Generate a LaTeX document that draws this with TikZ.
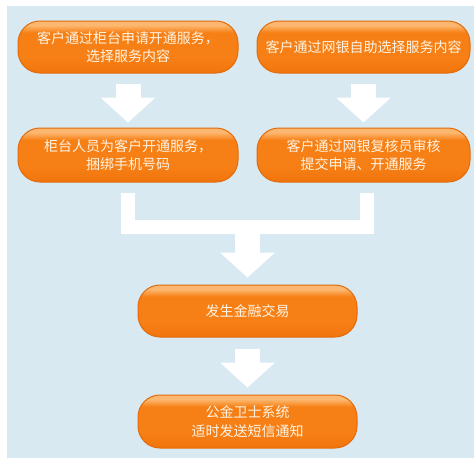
\documentclass[tikz,border=0pt]{standalone}
\usepackage{fontspec}
\newfontfamily\cjk{Noto Sans CJK SC}
\usetikzlibrary{arrows.meta,calc}
\definecolor{bgblue}{RGB}{216,233,241}
\definecolor{boxtop}{RGB}{252,184,112}
\definecolor{boxmid}{RGB}{247,128,22}
\definecolor{boxbot}{RGB}{240,116,12}
\definecolor{boxline}{RGB}{226,108,12}
\definecolor{boxtext}{RGB}{255,243,226}
% glossy fill of the steps
\pgfdeclareverticalshading{boxgloss}{100bp}{color(0bp)=(boxbot); color(25bp)=(boxbot); color(40bp)=(boxmid); color(64bp)=(boxmid); color(71bp)=(boxtop); color(100bp)=(boxtop)}
\begin{document}
\begin{tikzpicture}[x=1pt,y=-1pt,
	stepbox/.style={rounded corners=22pt,shading=boxgloss,draw=boxline,line width=1pt,
		minimum width=220pt,minimum height=52pt,inner sep=0pt,align=center,text=boxtext,font=\cjk\fontsize{14}{18.5}\selectfont},
	bigarrow/.style={white,line width=25pt,-{Triangle[width=55pt,length=25pt,line width=0pt]}},
	joinline/.style={white,line width=14pt}]
	\useasboundingbox (0,0) rectangle (474,458);
	%BACKGROUND
	\fill[bgblue] (7,6) rectangle (474,458);
	%STEPS
	\node[stepbox] (b1) at (128,47) {客户通过柜台申请开通服务，\\选择服务内容};
	\node[stepbox,minimum width=213pt] (b2) at (363.5,47) {客户通过网银自助选择服务内容};
	\node[stepbox,minimum height=54pt] (b3) at (128,155) {柜台人员为客户开通服务，\\捆绑手机号码};
	\node[stepbox,minimum width=213pt,minimum height=54pt] (b4) at (363.5,155) {客户通过网银复核员审核\\提交申请、开通服务};
	\node[stepbox,minimum width=219pt] (b5) at (247.5,311) {发生金融交易};
	\node[stepbox,minimum width=219pt,minimum height=53pt] (b6) at (247.5,421.5) {公金卫士系统\\适时发送短信通知};
	%ARROWS
	\draw[bigarrow,shorten <=10pt,shorten >=5pt] (b1) -- (b3);
	\draw[bigarrow,shorten <=10pt,shorten >=5pt] (b2) -- (b4);
	\coordinate (join) at (247.5,226.5);
	\draw[joinline] ($(b3.south)+(0,10)$) |- (join) -| ($(b4.south)+(3,10)$);
	\draw[bigarrow,shorten >=7pt] (join) -- (b5);
	\draw[bigarrow,shorten <=11pt,shorten >=7pt] (b5) -- (b6);
\end{tikzpicture}
\end{document}
